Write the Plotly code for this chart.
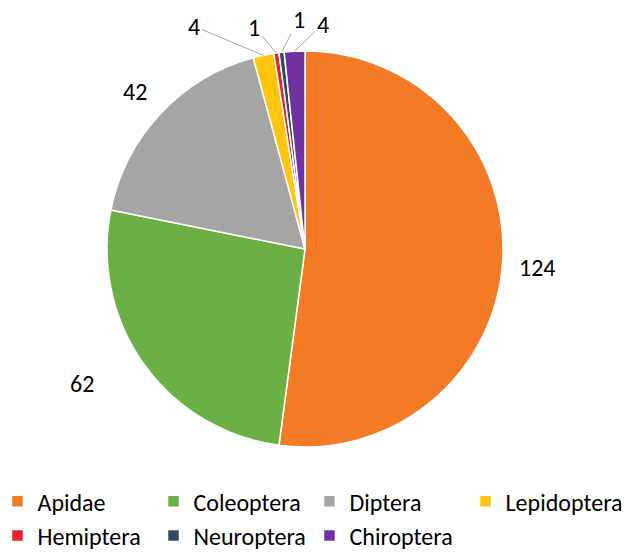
import numpy as np
import plotly.graph_objects as go

categories = ["Apidae", "Coleoptera", "Diptera", "Lepidoptera", "Hemiptera", "Neuroptera", "Chiroptera"]
counts = [124, 62, 42, 4, 1, 1, 4]
colors = ["#F47B25", "#6AB045", "#A5A5A5", "#FFC50F", "#EE2027", "#34495E", "#7032A0"]

# layout constants (pixels)
W, H = 624, 552
MB = 100                      # bottom margin (legend area)
PH = H - MB                   # plot-area height
CX, CY, R = 305, 249, 198     # pie centre and radius
FONT = "Carlito, Lato, sans-serif"

# label placement offsets from the slice's rim point: (dx, dy, leader line?)
label_offsets = [(35, 5, False), (-62, 19, False), (-25, -22, False),
                 (-69, -29, True), (-22, -26, True), (17, -33, True), (28, -27, True)]

vals = np.array(counts, dtype=float)
mid = (np.cumsum(vals) - vals / 2) / vals.sum() * 2 * np.pi   # clockwise from 12 o'clock

fig = go.Figure(go.Pie(
    labels=categories,
    values=counts,
    sort=False,
    direction="clockwise",
    rotation=0,
    marker=dict(colors=colors, line=dict(color="white", width=1.5)),
    textinfo="none",
    domain=dict(x=[(CX - R) / W, (CX + R) / W], y=[(PH - (CY + R)) / PH, (PH - (CY - R)) / PH]),
    hoverinfo="label+value",
))

annotations = []
for v, a, (dx, dy, line) in zip(counts, mid, label_offsets):
    px = CX + R * np.sin(a)
    py = CY - R * np.cos(a)
    ann = dict(x=px / W, y=(PH - py) / PH, xref="paper", yref="paper",
               xanchor="center", yanchor="middle",
               text=str(v), font=dict(size=24, family=FONT, color="#000000"))
    if line:
        ann.update(showarrow=True, ax=dx, ay=dy, axref="pixel", ayref="pixel",
                   arrowhead=0, arrowwidth=1, arrowcolor="#A6A6A6", standoff=0, startstandoff=0)
    else:
        ann.update(showarrow=False, xshift=dx, yshift=-dy)
    annotations.append(ann)

fig.update_layout(
    width=W, height=H,
    margin=dict(l=0, r=0, t=0, b=MB, autoexpand=False),
    paper_bgcolor="white",
    font=dict(family=FONT, color="#000000"),
    annotations=annotations,
    showlegend=True,
    legend=dict(
        orientation="h",
        x=-0.004, xanchor="left",
        y=-0.06, yanchor="top",
        font=dict(size=24, family=FONT, color="#000000"),
        entrywidth=111,
        entrywidthmode="pixels",
        traceorder="normal",
    ),
)

fig.write_html("out.html", config={"displayModeBar": False},
               post_script="document.body.style.margin='0';")
